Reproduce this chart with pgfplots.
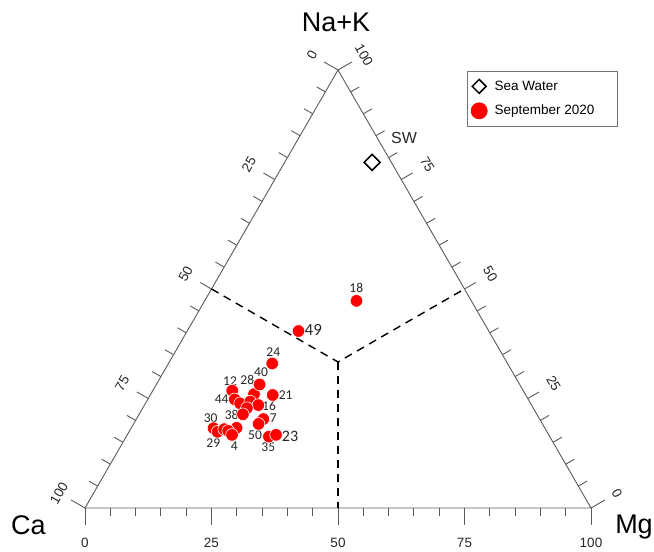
\documentclass[border=0pt]{standalone}
\usepackage{fontspec}
\setmainfont{Liberation Sans}
\newfontfamily\calfont{Carlito}
\usepackage{pgfplots}
\pgfplotsset{compat=1.18}
\usepackage{pgfplotstable}

% ternary values: mg = Mg %, nak = Na+K % (Ca = 100 - mg - nak)
\pgfplotstableread{
mg nak
15.7 26.8
20.4 26.0
20.4 28.2
24.2 25.8
17.2 24.8
18.7 23.9
20.5 24.3
22.5 23.5
20.6 22.8
20.5 21.4
25.1 20.3
24.7 19.2
16.3 18.2
17.5 17.4
18.5 18.0
20.8 18.3
19.5 17.6
20.7 16.7
28.2 16.3
29.4 16.7
20.5 33.0
22.0 40.4
30.0 47.3
}\sept

\pgfplotstableread{
mg nak
17.3 78.9
}\seawater

\definecolor{framec}{HTML}{5A5A5A}
\definecolor{lblc}{HTML}{262626}

\begin{document}
\begin{tikzpicture}
\begin{axis}[
  x=1pt, y=1pt, xmin=0, xmax=654, ymin=0, ymax=552,
  hide axis, clip=false,
  legend cell align=left,
  legend style={at={(axis cs:467.3,481)}, anchor=north west,
    draw=black!55, line width=0.8pt, inner xsep=3.5pt, inner ysep=7.5pt,
    row sep=9pt, font=\fontsize{13.5}{16}\selectfont,
    /tikz/every odd column/.append style={column sep=5.5pt}},
]
\coordinate (LL) at (axis cs:0,0);
\coordinate (UR) at (axis cs:654,552);

% triangle frame
\draw[framec, line width=0.9pt] (axis cs:85,44) -- (axis cs:591,44) -- (axis cs:338,482) -- cycle;

% minor ticks
\pgfplotsinvokeforeach{5,10,15,20,30,35,40,45,55,60,65,70,80,85,90,95}{
  \draw[framec, line width=0.9pt] (axis cs:{85+5.06*#1},44) -- ++(0pt,-8pt);
  \draw[framec, line width=0.9pt] (axis cs:{85+2.53*(100-#1)},{44+4.38*(100-#1)}) -- ++(-8.66pt,5pt);
  \draw[framec, line width=0.9pt] (axis cs:{591-2.53*#1},{44+4.38*#1}) -- ++(8.66pt,5pt);
}
% major ticks and labels
\pgfplotsinvokeforeach{25,50,75}{
  \draw[framec, line width=0.9pt] (axis cs:{85+5.06*#1},44) -- ++(0pt,-17pt);
  \draw[framec, line width=0.9pt] (axis cs:{85+2.53*(100-#1)},{44+4.38*(100-#1)}) -- ++(-11.3pt,6.5pt);
  \draw[framec, line width=0.9pt] (axis cs:{591-2.53*#1},{44+4.38*#1}) -- ++(11.3pt,6.5pt);
}
\pgfplotsinvokeforeach{0,100}{
  \draw[framec, line width=0.9pt] (axis cs:{85+5.06*#1},44) -- ++(0pt,-17pt);
  \draw[framec, line width=0.9pt] (axis cs:{85+2.53*(100-#1)},{44+4.38*(100-#1)}) -- ++(-13.9pt,8pt);
  \draw[framec, line width=0.9pt] (axis cs:{591-2.53*#1},{44+4.38*#1}) -- ++(13.9pt,8pt);
}
\pgfplotsinvokeforeach{0,25,50,75,100}{
  \node[font=\fontsize{13.5}{16}\selectfont, text=black!85, inner sep=0pt] at (axis cs:{85+5.06*#1},8.7) {#1};
  \node[font=\fontsize{13.5}{16}\selectfont, text=black!85, rotate=60, inner sep=0pt] at (axis cs:{85+2.53*(100-#1)-26},{44+4.38*(100-#1)+15}) {#1};
  \node[font=\fontsize{13.5}{16}\selectfont, text=black!85, rotate=-60, inner sep=0pt] at (axis cs:{591-2.53*#1+26},{44+4.38*#1+15}) {#1};
}

% corner labels
\node[font=\fontsize{27}{30}\selectfont, anchor=base] at (axis cs:28.5,17) {Ca};
\node[font=\fontsize{27}{30}\selectfont, anchor=base] at (axis cs:634,18.5) {Mg};
\node[font=\fontsize{27}{30}\selectfont, anchor=base] at (axis cs:336,520.3) {Na+K};

% dashed subdivision
\draw[black, line width=1.4pt, dash pattern=on 8pt off 6pt] (axis cs:211.5,263) -- (axis cs:338,190) -- (axis cs:464.5,263);
\draw[black, line width=1.4pt, dash pattern=on 8pt off 6pt] (axis cs:338,190) -- (axis cs:338,44);

% legend images
\addlegendimage{only marks, mark=square, mark size=4.9pt, mark options={rotate=45, draw=black, fill=white, line width=1.5pt}}
\addlegendentry{Sea Water}
\addlegendimage{only marks, mark=*, mark size=8pt, mark options={fill=red, draw=red}}
\addlegendentry{September 2020\hspace*{17pt}}

% data
\addplot[forget plot, only marks, mark=square, mark size=5.66pt, mark options={rotate=45, draw=black, fill=white, line width=1.6pt}]
  table[x expr={85+5.06*\thisrow{mg}+2.53*\thisrow{nak}}, y expr={44+4.38*\thisrow{nak}}] {\seawater};
\addplot[forget plot, only marks, mark=*, mark size=6.3pt, mark options={fill=red, draw=white, line width=0.6pt}]
  table[x expr={85+5.06*\thisrow{mg}+2.53*\thisrow{nak}}, y expr={44+4.38*\thisrow{nak}}] {\sept};

% point labels
\begin{scope}[font=\calfont\fontsize{13.5}{15}\selectfont, text=lblc]
\node at (axis cs:230,171.3) {12};
\node at (axis cs:247.3,172) {28};
\node at (axis cs:261,179.7) {40};
\node at (axis cs:273.3,200.3) {24};
\node at (axis cs:285.7,157) {21};
\node at (axis cs:221.7,153) {44};
\node at (axis cs:269,146.3) {16};
\node at (axis cs:231.7,137) {38};
\node at (axis cs:273.3,134.3) {7};
\node at (axis cs:210.7,134.3) {30};
\node at (axis cs:255,117) {50};
\node at (axis cs:213.3,108.7) {29};
\node at (axis cs:234.3,106) {4};
\node at (axis cs:268.3,104.7) {35};
\node at (axis cs:356.3,264) {18};
\end{scope}
\node[font=\calfont\fontsize{16}{17}\selectfont, text=lblc] at (axis cs:290,116) {23};
\node[font=\calfont\fontsize{17}{18}\selectfont, text=lblc] at (axis cs:313.3,222) {49};
\node[font=\fontsize{16}{18}\selectfont, text=lblc] at (axis cs:404,413.7) {SW};
\end{axis}
\pgfresetboundingbox
\path[use as bounding box] (LL) rectangle (UR);
\end{tikzpicture}
\end{document}
